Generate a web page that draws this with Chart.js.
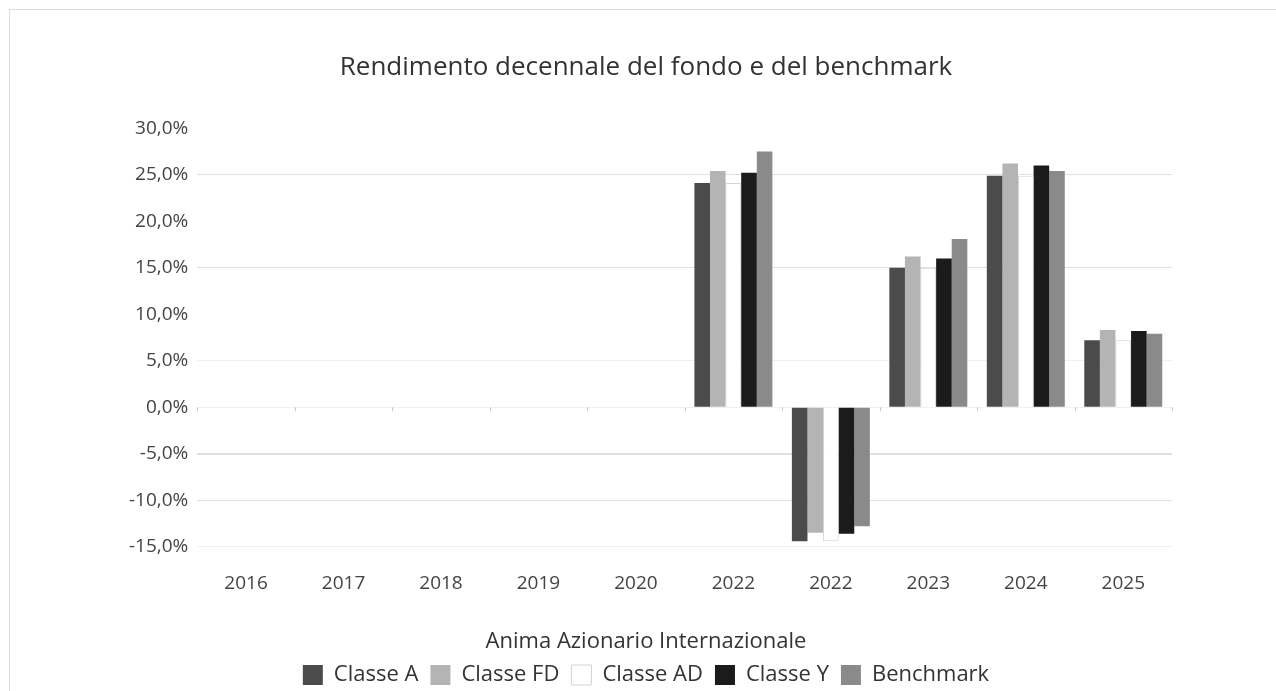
<!DOCTYPE html>
<html>
<head>
<meta charset="utf-8">
<script src="https://cdn.jsdelivr.net/npm/chart.js@4"></script>
<style>
  html, body { margin: 0; padding: 0; background: #fff; overflow: hidden; }
  #frame { position: absolute; left: 9px; top: 9px; width: 1400px; height: 800px; border: 1px solid #dcdcdc; }
  #wrap { position: absolute; left: 0; top: 0; width: 1276px; height: 691px; }
</style>
</head>
<body>
<div id="frame"></div>
<div id="wrap"><canvas id="chart"></canvas></div>
<script>
const years = ['2016', '2017', '2018', '2019', '2020', '2022', '2022', '2023', '2024', '2025'];
const classeA   = [null, null, null, null, null, 24.1, -14.4, 15.0, 24.9, 7.2];
const classeFD  = [null, null, null, null, null, 25.4, -13.5, 16.2, 26.2, 8.3];
const classeAD  = [null, null, null, null, null, 24.1, -14.4, 15.0, 24.9, 7.2];
const classeY   = [null, null, null, null, null, 25.2, -13.6, 16.0, 26.0, 8.2];
const benchmark = [null, null, null, null, null, 27.5, -12.8, 18.1, 25.4, 7.9];

const fontFam = '"Open Sans", "Noto Sans", sans-serif';

// tiny tick marks on the zero line between categories
const zeroTicks = {
  id: 'zeroTicks',
  afterDatasetsDraw(chart) {
    const x = chart.scales.x, y = chart.scales.y;
    const ctx = chart.ctx;
    const y0 = y.getPixelForValue(0);
    ctx.save();
    ctx.strokeStyle = '#c8c8c8';
    ctx.lineWidth = 1;
    for (let i = 0; i <= years.length; i++) {
      const px = Math.round(x.left + i * (x.width / years.length)) + 0.5;
      ctx.beginPath();
      ctx.moveTo(px, y0);
      ctx.lineTo(px, y0 + 4);
      ctx.stroke();
    }
    ctx.restore();
  }
};

new Chart(document.getElementById('chart'), {
  type: 'bar',
  data: {
    labels: years,
    datasets: [
      { label: 'Classe A', data: classeA, backgroundColor: '#4b4b4b', borderColor: '#4b4b4b', borderWidth: 0 },
      { label: 'Classe FD', data: classeFD, backgroundColor: '#b4b4b4', borderColor: '#b4b4b4', borderWidth: 0 },
      { label: 'Classe AD', data: classeAD, backgroundColor: '#ffffff', borderColor: '#d4d4d4', borderWidth: 1 },
      { label: 'Classe Y', data: classeY, backgroundColor: '#1b1b1b', borderColor: '#1b1b1b', borderWidth: 0 },
      { label: 'Benchmark', data: benchmark, backgroundColor: '#8a8a8a', borderColor: '#8a8a8a', borderWidth: 0 }
    ]
  },
  options: {
    responsive: true,
    maintainAspectRatio: false,
    animation: false,
    layout: { padding: { left: 120, right: 104, top: 0, bottom: -5 } },
    datasets: { bar: { categoryPercentage: 0.8, barPercentage: 1.0 } },
    plugins: {
      tooltip: { enabled: false },
      title: {
        display: true,
        text: 'Rendimento decennale del fondo e del benchmark',
        color: '#333',
        font: { family: fontFam, size: 26, weight: 'normal' },
        padding: { top: 52, bottom: 45 }
      },
      legend: {
        position: 'bottom',
        title: {
          display: true,
          text: 'Anima Azionario Internazionale',
          color: '#333',
          font: { family: fontFam, size: 22 },
          padding: { top: 19, bottom: -5 }
        },
        labels: {
          boxWidth: 20,
          boxHeight: 20,
          padding: 12,
          color: '#333',
          font: { family: fontFam, size: 22 }
        }
      }
    },
    scales: {
      x: {
        grid: { display: false },
        border: { display: false },
        ticks: { color: '#444', font: { family: fontFam, size: 19 }, padding: 17 }
      },
      y: {
        min: -15,
        max: 30,
        border: { display: false },
        grid: {
          drawTicks: false,
          color: ctx => {
            const v = ctx.tick.value;
            if (v === 25 || v === 15 || v === -5 || v === -10) return '#e0e0e0';
            if (v === 5 || v === 0 || v === -15) return '#f0f0f0';
            return 'rgba(0,0,0,0)';
          },
          lineWidth: ctx => (ctx.tick.value === -5 ? 2 : 1)
        },
        ticks: {
          stepSize: 5,
          padding: 9,
          color: '#444',
          font: { family: fontFam, size: 19 },
          callback: v => v.toFixed(1).replace('.', ',') + '%'
        }
      }
    }
  },
  plugins: [zeroTicks]
});
</script>
</body>
</html>
